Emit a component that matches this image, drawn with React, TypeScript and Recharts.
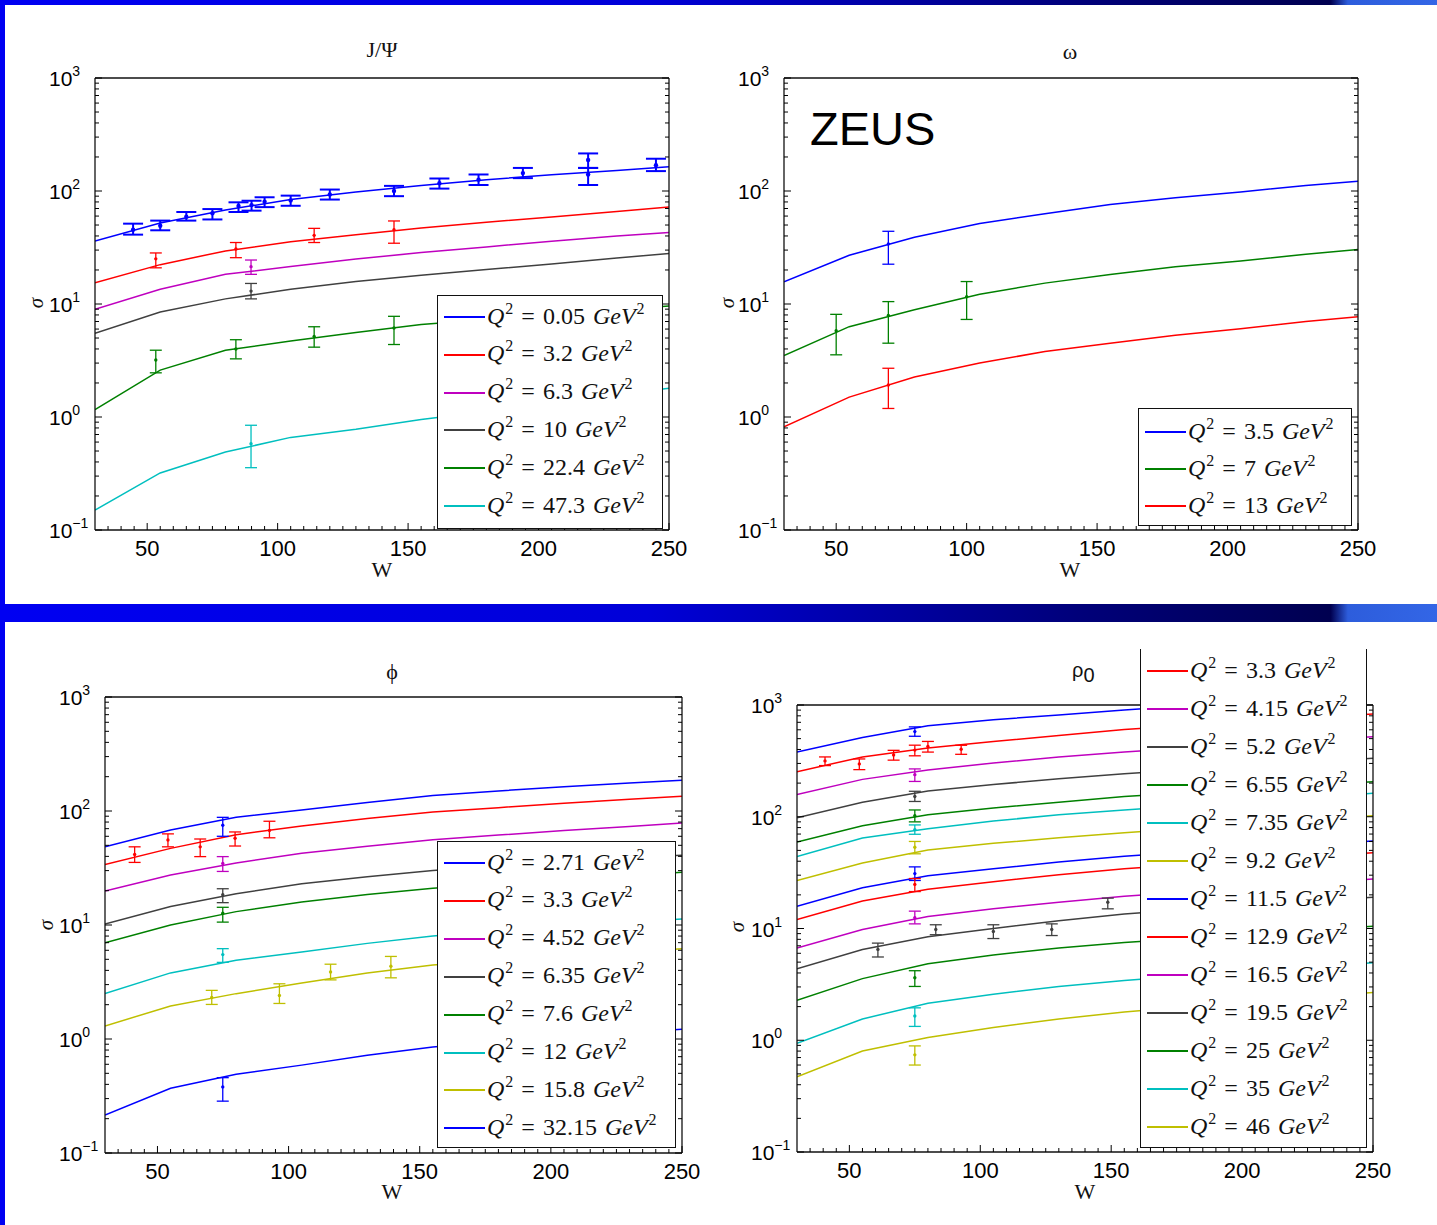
import React from "react";
import { ComposedChart, Line, Scatter, ErrorBar, XAxis, YAxis } from "recharts";

// W grid shared by all model curves
const W = [30, 55, 80, 105, 130, 155, 180, 205, 230, 250];

// J/Psi
const jpsiQ2 = ["0.05", "3.2", "6.3", "10", "22.4", "47.3"];
const jpsiCurves = [
  [36, 52, 68, 84, 98, 112, 126, 139, 152, 164],
  [15.4, 22.3, 29.5, 35.5, 41, 47, 53, 59, 66, 72],
  [9, 13.5, 18.3, 21.5, 25, 28.5, 32, 36, 40, 43],
  [5.5, 8.5, 11.1, 13.5, 15.8, 18, 20.2, 22.6, 25.5, 28],
  [1.16, 2.6, 3.9, 4.7, 5.6, 6.6, 7.3, 8.1, 8.9, 9.6],
  [0.15, 0.32, 0.49, 0.66, 0.78, 0.95, 1.12, 1.33, 1.57, 1.8],
];
// data points: [W, sigma, low, high]
const jpsiPts = [
  [
    [44.6, 45.5, 41.1, 51.4], [55, 49.3, 44.9, 54.7], [65, 59.2, 54.7, 65.2], [75, 63.5, 56, 69.2],
    [85, 73.6, 65.2, 79.4], [90, 75, 67, 82], [95, 80.5, 72, 88], [105, 82.6, 74, 91],
    [120, 93, 84, 103], [144.6, 100, 90, 111], [162, 117, 105, 129], [177, 126, 113, 140],
    [194, 144, 130, 160], [219, 188, 160, 215], [219, 140, 113, 160], [245, 169, 150, 193],
  ],
  [[53.3, 25.1, 20.9, 28.3], [84, 30.7, 25.7, 35], [114, 40.5, 35, 46.7], [144.6, 45.5, 34.5, 54.3]],
  [[89.8, 21.4, 18.3, 24.5]],
  [[89.8, 13, 11.1, 15.2]],
  [[53.3, 3.19, 2.46, 3.9], [84, 4.0, 3.27, 4.83], [114, 5.15, 4.15, 6.29], [144.6, 6.14, 4.38, 7.78]],
  [[89.8, 0.58, 0.356, 0.845]],
];

// omega
const omegaQ2 = ["3.5", "7", "13"];
const omegaCurves = [
  [15.7, 27, 39, 51.5, 63, 76, 87, 98, 112, 122],
  [3.5, 6.3, 8.9, 12.2, 15.3, 18.2, 21.4, 24, 27.6, 30.4],
  [0.82, 1.5, 2.26, 3.0, 3.8, 4.5, 5.3, 6.05, 7.0, 7.7],
];
const omegaPts = [
  [[70, 34, 22.5, 44]],
  [[50, 5.8, 3.55, 8.1], [70, 7.9, 4.5, 10.5], [100, 11.6, 7.3, 15.8]],
  [[70, 1.92, 1.19, 2.7]],
];

// phi
const phiQ2 = ["2.71", "3.3", "4.52", "6.35", "7.6", "12", "15.8", "32.15"];
const phiCurves = [
  [48.5, 68, 88, 102, 119, 137, 150, 163, 176, 186],
  [34, 47, 62, 74, 86, 98, 107, 117, 127, 135],
  [19.9, 27.5, 35, 42.5, 49, 56, 61.5, 67.5, 73, 78.5],
  [10.2, 14.5, 18.8, 23, 26.5, 30, 33, 36, 39, 41],
  [7, 10, 13.1, 15.9, 18.5, 21, 23, 25, 27, 29],
  [2.5, 3.8, 4.9, 5.8, 6.9, 8.0, 8.9, 9.7, 10.6, 11.3],
  [1.3, 1.95, 2.5, 3.1, 3.8, 4.45, 4.9, 5.4, 5.8, 6.2],
  [0.215, 0.37, 0.49, 0.59, 0.72, 0.85, 0.95, 1.05, 1.14, 1.22],
];
const phiPts = [
  [[74.9, 75, 60, 88]],
  [[41.3, 41.5, 35.4, 48.5], [54, 55.6, 48.5, 63], [66.3, 48.5, 39.8, 56.8], [79.6, 57.7, 49.3, 65.5], [92.7, 67.6, 58.2, 81.3]],
  [[74.9, 34.6, 29.5, 39.8]],
  [[74.9, 18.4, 15.7, 20.8]],
  [[74.9, 12.7, 10.6, 14.3]],
  [[74.9, 5.5, 4.7, 6.2]],
  [[70.7, 2.31, 2.01, 2.67], [96.5, 2.41, 2.05, 3.05], [116, 3.87, 3.3, 4.53], [139, 4.35, 3.44, 5.3]],
  [[74.9, 0.38, 0.285, 0.458]],
];

// rho0 (first curve has no visible legend entry)
const rhoQ2 = ["3.3", "4.15", "5.2", "6.55", "7.35", "9.2", "11.5", "12.9", "16.5", "19.5", "25", "35", "46"];
const rhoCurves = [
  [379, 512, 653, 738, 814, 901, 990, 1080, 1180, 1270],
  [253, 343, 412, 472, 533, 603, 660, 720, 780, 830],
  [158, 216, 262, 302, 343, 380, 415, 450, 490, 520],
  [98, 135, 170, 194, 219, 242, 265, 290, 312, 333],
  [59.4, 83, 104, 120, 135, 152, 165, 180, 194, 206],
  [44, 64.6, 78, 91.6, 104, 115, 126, 138, 150, 162],
  [26.9, 38.5, 50.4, 57.8, 65, 72, 79, 87, 95, 102],
  [15.8, 23.2, 29.6, 34.2, 39.4, 44.3, 48.5, 52.5, 57, 60.7],
  [12, 17.6, 22.5, 26.2, 30.3, 34.2, 37.5, 41, 44.5, 47.7],
  [6.7, 9.8, 12.8, 15, 17.2, 19.4, 21.3, 23.5, 25.8, 27.7],
  [4.35, 6.5, 8.45, 10, 11.75, 13.5, 14.9, 16.3, 17.8, 19],
  [2.28, 3.56, 4.84, 5.8, 6.7, 7.5, 8.2, 9.0, 9.8, 10.5],
  [0.94, 1.55, 2.14, 2.58, 3.03, 3.42, 3.8, 4.2, 4.6, 4.95],
  [0.47, 0.8, 1.06, 1.3, 1.55, 1.79, 2.0, 2.25, 2.48, 2.67],
];
const rhoPts = [
  [[75, 578, 525, 637]],
  [[40.7, 316, 287, 343], [53.8, 297, 264, 329], [66.9, 357, 321, 393], [75, 395, 351, 437], [80, 425, 379, 472], [92.7, 402, 362, 436]],
  [[75, 238, 207, 268]],
  [[75, 152, 137, 169]],
  [[75, 102, 90, 115]],
  [[75, 76.7, 69.7, 84.5]],
  [[75, 53.3, 46.6, 60.1]],
  [[75, 31, 26.9, 35.6]],
  [[75, 24.8, 21.4, 28]],
  [[75, 12.5, 11, 14.3]],
  [[60.9, 6.5, 5.56, 7.4], [83, 9.8, 8.8, 10.8], [105, 9.4, 8.13, 10.8], [127.3, 9.8, 8.65, 11], [148.7, 17.2, 15, 18.7]],
  [[75, 3.62, 3.03, 4.19]],
  [[75, 1.65, 1.33, 1.95]],
  [[75, 0.74, 0.6, 0.89]],
];

const xTicks = Array.from({ length: 44 }, (_, i) => 35 + 5 * i);
const yTicks = [
  ...[0.1, 1, 10, 100].flatMap((d) => [1, 2, 3, 4, 5, 6, 7, 8, 9].map((k) => +(k * d).toPrecision(3))),
  1000,
];

const B = "#0000ff", R = "#ff0000", M = "#bf00bf", K = "#404040", G = "#008000", C = "#00bfbf", Y = "#bfbf00";
const SANS = "'Liberation Sans', Arial, sans-serif";
const SERIF = "'Liberation Serif', 'Times New Roman', serif";

const isMajor = (v: number) => {
  const l = Math.log10(v);
  return Math.abs(l - Math.round(l)) < 1e-6;
};

const BottomTick = (p: any) => {
  const v = p.payload.value;
  const major = v % 50 === 0;
  return (
    <g>
      <line x1={p.x} x2={p.x} y1={p.y} y2={p.y - (major ? 7 : 4)} stroke="#000" />
      {major && (
        <text x={p.x} y={p.y + 26} textAnchor="middle" fontFamily={SANS} fontSize={22} fill="#000">
          {v}
        </text>
      )}
    </g>
  );
};
const TopTick = (p: any) => {
  const major = p.payload.value % 50 === 0;
  return <line x1={p.x} x2={p.x} y1={p.y} y2={p.y + (major ? 7 : 4)} stroke="#000" />;
};
const LeftTick = (p: any) => {
  const v = p.payload.value;
  const major = isMajor(v);
  const e = Math.round(Math.log10(v));
  return (
    <g>
      <line x1={p.x} x2={p.x + (major ? 7 : 4)} y1={p.y} y2={p.y} stroke="#000" />
      {major && (
        <text x={p.x - 46} y={p.y + 8} fontFamily={SANS} fontSize={21} fill="#000">
          10
          <tspan dy={-10} fontSize={14}>
            {e < 0 ? "\u2212" + Math.abs(e) : e}
          </tspan>
        </text>
      )}
    </g>
  );
};
const RightTick = (p: any) => {
  const major = isMajor(p.payload.value);
  return <line x1={p.x} x2={p.x - (major ? 7 : 4)} y1={p.y} y2={p.y} stroke="#000" />;
};

type Rect = { l: number; t: number; r: number; b: number };
type Leg = Rect & { first: number; step: number; noTop?: boolean; names: string[]; colors: string[] };

const sup: React.CSSProperties = { fontSize: 16, position: "relative", top: -10, marginLeft: 1 };

function LegendBox({ leg, box }: { leg: Leg; box: Rect }) {
  return (
    <div
      style={{
        position: "absolute",
        left: leg.l - box.l,
        top: leg.t - box.t,
        width: leg.r - leg.l,
        height: leg.b - leg.t,
        boxSizing: "border-box",
        background: "#fff",
        border: "1.5px solid #111",
        borderTop: leg.noTop ? "none" : "1.5px solid #111",
      }}
    >
      {leg.names.map((q, i) => (
        <div
          key={q + i}
          style={{
            position: "absolute",
            left: 6,
            top: leg.first + i * leg.step - 19,
            height: 38,
            display: "flex",
            alignItems: "center",
            whiteSpace: "nowrap",
          }}
        >
          <div style={{ width: 41, height: 2, background: leg.colors[i] }} />
          <span style={{ marginLeft: 2, fontFamily: SERIF, fontSize: 24, color: "#111", lineHeight: "38px", wordSpacing: 2 }}>
            <i>Q</i>
            <span style={sup}>2</span> = {q} <i>GeV</i>
            <span style={sup}>2</span>
          </span>
        </div>
      ))}
    </div>
  );
}

function Panel({
  box, plot, curves, colors, pts, leg, thickFirst,
}: {
  box: Rect; plot: Rect; curves: number[][]; colors: string[]; pts: number[][][]; leg: Leg; thickFirst?: boolean;
}) {
  const width = box.r - box.l;
  const height = box.b - box.t;
  const margin = {
    left: plot.l - box.l - 60,
    top: plot.t - box.t - 1,
    right: box.r - plot.r - 1,
    bottom: box.b - plot.b - 48,
  };
  const axisLine = { stroke: "#111", strokeWidth: 1.3 };
  return (
    <div style={{ position: "absolute", left: box.l, top: box.t, width, height }}>
      <ComposedChart width={width} height={height} margin={margin}>
        <XAxis xAxisId="b" dataKey="w" type="number" domain={[30, 250]} allowDataOverflow ticks={xTicks}
          interval={0} tickSize={0} tickMargin={0} tickLine={false} axisLine={axisLine} tick={BottomTick} height={48} />
        <XAxis xAxisId="t" orientation="top" type="number" domain={[30, 250]} allowDataOverflow ticks={xTicks}
          interval={0} tickSize={0} tickMargin={0} tickLine={false} axisLine={axisLine} tick={TopTick} height={1} />
        <YAxis yAxisId="l" type="number" scale="log" domain={[0.1, 1000]} allowDataOverflow ticks={yTicks}
          interval={0} tickSize={0} tickMargin={0} tickLine={false} axisLine={axisLine} tick={LeftTick} width={60} />
        <YAxis yAxisId="r" orientation="right" type="number" scale="log" domain={[0.1, 1000]} allowDataOverflow
          ticks={yTicks} interval={0} tickSize={0} tickMargin={0} tickLine={false} axisLine={axisLine} tick={RightTick} width={1} />
        {curves.map((c, i) => (
          <Line key={"c" + i} xAxisId="b" yAxisId="l" data={W.map((w, j) => ({ w, v: c[j] }))} dataKey="v"
            type="linear" stroke={colors[i]} strokeWidth={1.5} dot={false} isAnimationActive={false} />
        ))}
        {pts.map((s, i) => {
          const thick = thickFirst && i === 0;
          return (
            <Scatter key={"p" + i} xAxisId="b" yAxisId="l" dataKey="v"
              data={s.map(([w, v, lo, hi]) => ({ w, v, e: [v - lo, hi - v] }))}
              fill={colors[i]} isAnimationActive={false}
              shape={(p: any) => <circle cx={p.cx} cy={p.cy} r={thick ? 2.2 : 1.7} fill={colors[i]} />}>
              <ErrorBar dataKey="e" direction="y" width={thick ? 10 : 6} stroke={colors[i]} strokeWidth={thick ? 2 : 1.3} />
            </Scatter>
          );
        })}
      </ComposedChart>
      <LegendBox leg={leg} box={box} />
    </div>
  );
}

const band = "linear-gradient(to right, #0000f2 0%, #0000d8 45%, #00007a 75%, #000050 92.6%, #2d5ddc 93.8%, #3366e6 100%)";

export default function App() {
  const p1 = { l: 0, t: 0, r: 718, b: 600 };
  const p2 = { l: 718, t: 0, r: 1437, b: 600 };
  const p3 = { l: 0, t: 622, r: 718, b: 1225 };
  const p4 = { l: 718, t: 622, r: 1437, b: 1225 };
  const lbl = { fontFamily: SERIF, fontSize: 22, fill: "#111" };
  const sig = (x: number, y: number) => (
    <text x={x} y={y} transform={`rotate(-90 ${x} ${y})`} textAnchor="middle" dominantBaseline="central"
      fontFamily={SERIF} fontStyle="italic" fontSize={21} fill="#111">σ</text>
  );
  return (
    <div style={{ position: "absolute", left: 0, top: 0, width: 1437, height: 1225, background: "#fff", overflow: "hidden" }}>
      <Panel box={p1} plot={{ l: 95, t: 78, r: 669, b: 530 }} curves={jpsiCurves} colors={[B, R, M, K, G, C]} pts={jpsiPts} thickFirst
        leg={{ l: 437, t: 295, r: 663, b: 529, first: 21, step: 37.8, names: jpsiQ2, colors: [B, R, M, K, G, C] }} />
      <Panel box={p2} plot={{ l: 784, t: 78, r: 1358, b: 530 }} curves={omegaCurves} colors={[B, G, R]} pts={omegaPts}
        leg={{ l: 1138, t: 408, r: 1352, b: 526, first: 23, step: 37, names: omegaQ2, colors: [B, G, R] }} />
      <Panel box={p3} plot={{ l: 105, t: 697, r: 682, b: 1153 }} curves={phiCurves} colors={[B, R, M, K, G, C, Y, B]} pts={phiPts}
        leg={{ l: 437, t: 841, r: 676, b: 1148, first: 21, step: 37.9, names: phiQ2, colors: [B, R, M, K, G, C, Y, B] }} />
      <Panel box={p4} plot={{ l: 797, t: 705, r: 1373, b: 1152 }} curves={rhoCurves}
        colors={[B, R, M, K, G, C, Y, B, R, M, K, G, C, Y]} pts={rhoPts}
        leg={{ l: 1140, t: 649, r: 1367, b: 1148, first: 22, step: 38, noTop: true, names: rhoQ2,
          colors: [R, M, K, G, C, Y, B, R, M, K, G, C, Y] }} />
      <svg width={1437} height={1225} style={{ position: "absolute", left: 0, top: 0, pointerEvents: "none" }}>
        <text x={382} y={57} textAnchor="middle" {...lbl}>J/Ψ</text>
        <text x={1070} y={59} textAnchor="middle" {...lbl}>ω</text>
        <text x={392} y={679} textAnchor="middle" {...lbl}>ϕ</text>
        <text x={1072} y={677} fontFamily={SANS} fontSize={20} fill="#111">ρ<tspan dy={5}>0</tspan></text>
        <text x={382} y={577} textAnchor="middle" {...lbl}>W</text>
        <text x={1070} y={577} textAnchor="middle" {...lbl}>W</text>
        <text x={392} y={1199} textAnchor="middle" {...lbl}>W</text>
        <text x={1085} y={1199} textAnchor="middle" {...lbl}>W</text>
        {sig(36, 303)}
        {sig(727, 303)}
        {sig(46, 925)}
        {sig(737, 927)}
        <text x={810} y={145} fontFamily={SANS} fontSize={47} fill="#000">ZEUS</text>
      </svg>
      <div style={{ position: "absolute", left: 0, top: 0, width: 1437, height: 5, background: band }} />
      <div style={{ position: "absolute", left: 0, top: 604, width: 1437, height: 18, background: band }} />
      <div style={{ position: "absolute", left: 0, top: 0, width: 5, height: 1225, background: "#0000f2" }} />
    </div>
  );
}
